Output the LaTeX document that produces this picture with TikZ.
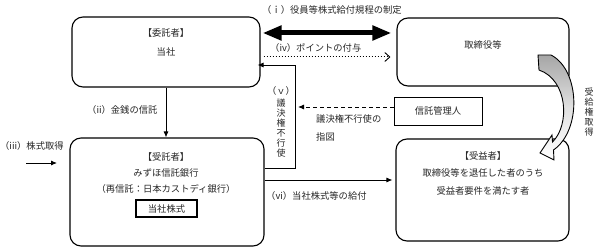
\documentclass[tikz,border=0pt]{standalone}
\usepackage{fontspec}
\setmainfont{Noto Sans CJK JP}
\usetikzlibrary{arrows.meta}
\begin{document}
\begin{tikzpicture}[x=1pt,y=-1pt,
  box/.style={draw, line width=1.1pt, rounded corners=11pt, inner sep=0},
  sqbox/.style={draw, line width=0.9pt, inner sep=0},
  txt/.style={inner sep=0, text=black!85, font=\fontsize{9.3}{11}\selectfont},
  vtxt/.style={inner sep=0, align=center, text=black!85, font=\fontsize{9}{10}\selectfont},
  arr/.style={line width=0.9pt, -{Latex[length=6pt,width=5pt]}},
]
\useasboundingbox (0,0) rectangle (600,251);
% boxes
\node[box, minimum width=188pt, minimum height=70pt] (wt) at (166,52) {};
\node[box, minimum width=172pt, minimum height=68pt] (tk) at (483,52) {};
\node[sqbox, minimum width=88pt, minimum height=28pt] (tr) at (438,111) {};
\node[box, minimum width=194pt, minimum height=108pt] (jt) at (167,192) {};
\node[sqbox, line width=1.3pt, minimum width=61pt, minimum height=17pt] (kb) at (166.5,208.5) {};
\node[box, minimum width=173pt, minimum height=102pt] (jx) at (482.5,190) {};
% box texts
\node[txt] (wt1) at (166,33) {【委託者】};
\node[txt] (wt2) at (166,52) {当社};
\node[txt] (tk1) at (483,45) {取締役等};
\node[txt] (tr1) at (438,111) {信託管理人};
\node[txt] (jt1) at (166,157) {【受託者】};
\node[txt] (jt2) at (166,173) {みずほ信託銀行};
\node[txt] (jt3) at (166,189) {（再信託：日本カストディ銀行）};
\node[txt] (kb1) at (166.5,208.5) {当社株式};
\node[txt] (jx1) at (483,156) {【受益者】};
\node[txt] (jx2) at (483,173) {取締役等を退任した者のうち};
\node[txt] (jx3) at (483,191) {受益者要件を満たす者};
% connector labels
\node[txt, anchor=west] (l1) at (262,10) {（ｉ）役員等株式給付規程の制定};
\node[txt, anchor=west] (l4) at (270,48) {（iv）ポイントの付与};
\node[txt] (l5a) at (281,91) {（ｖ）};
\node[vtxt] (l5b) at (281,128) {議\\決\\権\\不\\行\\使};
\node[txt, anchor=west] (l6a) at (316,119) {議決権不行使の};
\node[txt, anchor=west] (l6b) at (316,137) {指図};
\node[txt, anchor=west] (l2) at (87,110) {（ii）金銭の信託};
\node[txt, anchor=west] (l3) at (0,146) {（iii）株式取得};
\node[txt, anchor=west] (l7) at (266,196) {（vi）当社株式等の給付};
\node[vtxt] (l8) at (589,112) {受\\給\\権\\取\\得};
% connectors
\draw[line width=5pt, shorten <=2pt, shorten >=5pt,
  {Triangle[length=19pt,width=14pt]}-{Triangle[length=19pt,width=14pt]}]
  (wt.east |- 0,33) -- (tk.west |- 0,33);
\draw[dotted, line width=1pt, shorten <=3pt, shorten >=6pt,
  -{Straight Barb[length=5pt,width=9pt,line width=0.9pt]}]
  (wt.east |- 0,57) -- (tk.west |- 0,57);
\coordinate (vb) at (295,168);
\coordinate (vt) at (295,65);
\draw[arr, line width=0.8pt, shorten >=-3pt] (jt.east |- vb) -- (vb) -- (vt) -- (wt.east |- vt);
\coordinate (dashend) at (298,107);
\draw[dashed, line width=0.9pt, dash pattern=on 4pt off 3pt, -{Latex[length=6pt,width=5pt]}] (tr.west |- dashend) -- (dashend);
\draw[arr] (wt.south) -- (wt.south |- jt.north);
\draw[arr, shorten >=3pt] (jt.east |- 0,180) -- (jx.west |- 0,180);
\coordinate (iiiS) at (26,163);
\coordinate (iiiE) at (57,163);
\draw[arr] (iiiS) -- (iiiE);
% curved arrow
\draw[line width=0.9pt, line join=miter, top color=black!35, bottom color=white, middle color=black!12]
  (538,55) -- (551,55) .. controls (580,70) and (582,130) .. (553.5,150)
  -- (554,160) -- (540,153) -- (552,135) -- (552.5,142)
  .. controls (570,125) and (568,80) .. (539,70) -- cycle;
\end{tikzpicture}
\end{document}
